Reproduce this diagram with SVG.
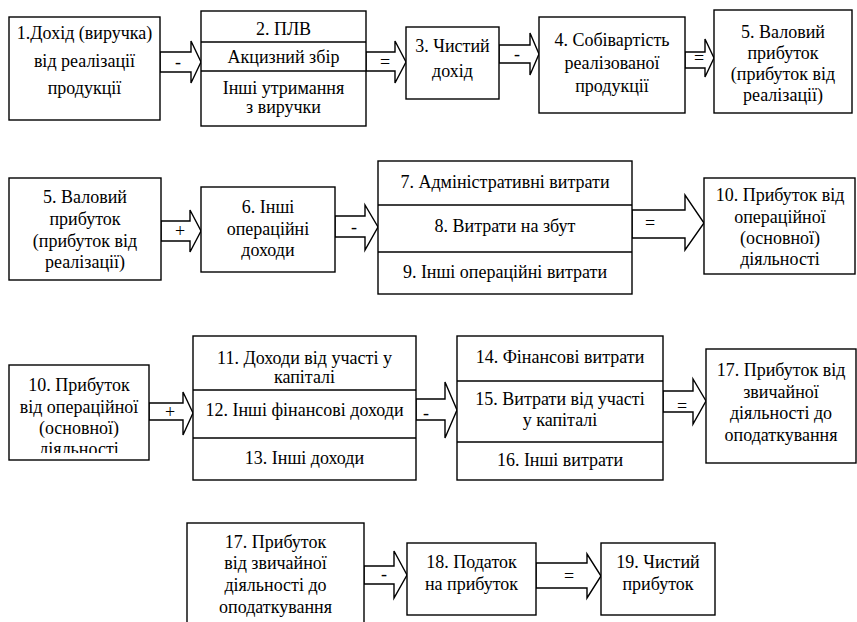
<svg xmlns="http://www.w3.org/2000/svg" width="857" height="622" viewBox="0 0 857 622">
  <style>
    .box { fill: #fff; stroke: #000; stroke-width: 1.4; }
    .div { stroke: #000; stroke-width: 1.4; }
    .arr { fill: #fff; stroke: #000; stroke-width: 1.4; stroke-linejoin: miter; }
    text { font-family: "Liberation Serif", "Times New Roman", serif; font-size: 18px; fill: #000; text-anchor: middle; }
  </style>
  <defs>
    <clipPath id="clip10b"><rect x="9" y="365" width="140" height="88"/></clipPath>
  </defs>
  <rect width="857" height="622" fill="#fff"/>

  <!-- connectors: hollow block arrows with operation signs -->
  <g id="connectors">
    <polygon class="arr" points="160,52 191,52 191,41 201,62 191,83 191,72 160,72"/>
    <text x="178" y="68">-</text>
    <polygon class="arr" points="366,52 395,52 395,41 406,62 395,83 395,71 366,71"/>
    <text x="385" y="68">=</text>
    <polygon class="arr" points="499,45 530,45 530,33 539,54 530,75 530,63 499,63"/>
    <text x="517" y="60">-</text>
    <polygon class="arr" points="685,52 705,52 705,39 714,58 705,77 705,68 685,68"/>
    <text x="699" y="64">=</text>

    <polygon class="arr" points="161,221 190,221 190,210 201,231 190,252 190,241 161,241"/>
    <text x="180" y="237">+</text>
    <polygon class="arr" points="335,216 365,216 365,205 378,227 365,250 365,237 335,237"/>
    <text x="354" y="233">-</text>
    <polygon class="arr" points="632,210 685,210 685,195 704,223 685,250 685,238 632,238"/>
    <text x="650" y="229">=</text>

    <polygon class="arr" points="149,403 183,403 183,392 193,413 183,435 183,420 149,420"/>
    <text x="170" y="418">+</text>
    <polygon class="arr" points="416,399 445,399 445,382 457,410 445,438 445,420 416,420"/>
    <text x="426" y="419">-</text>
    <polygon class="arr" points="663,391 693,391 693,379 706,401 693,424 693,412 663,412"/>
    <text x="682" y="412">=</text>

    <polygon class="arr" points="364,566 394,566 394,551 407,575 394,598 394,584 364,584"/>
    <text x="384" y="580">-</text>
    <polygon class="arr" points="536,563 587,563 587,554 601,576 587,598 587,588 536,588"/>
    <text x="569" y="582">=</text>
  </g>

  <!-- row 1 -->
  <g id="n1">
    <rect class="box" x="9" y="17" width="151" height="103"/>
    <text x="84.5" y="39">1.Дохід (виручка)</text>
    <text x="84.5" y="67">від реалізації</text>
    <text x="84.5" y="94">продукції</text>
  </g>
  <g id="n2">
    <rect class="box" x="201" y="11" width="165" height="115"/>
    <line class="div" x1="201" y1="42" x2="366" y2="42"/>
    <line class="div" x1="201" y1="71" x2="366" y2="71"/>
    <text x="283.5" y="35">2. ПЛВ</text>
    <text x="283.5" y="63">Акцизний збір</text>
    <text x="283.5" y="94">Інші утримання</text>
    <text x="283.5" y="113">з виручки</text>
  </g>
  <g id="n3">
    <rect class="box" x="406" y="27" width="93" height="72"/>
    <text x="452.5" y="52">3. Чистий</text>
    <text x="452.5" y="77">дохід</text>
  </g>
  <g id="n4">
    <rect class="box" x="539" y="17" width="146" height="96"/>
    <text x="612" y="46">4. Собівартість</text>
    <text x="612" y="69">реалізованої</text>
    <text x="612" y="92">продукції</text>
  </g>
  <g id="n5">
    <rect class="box" x="714" y="10" width="138" height="103"/>
    <text x="783" y="38">5. Валовий</text>
    <text x="783" y="59">прибуток</text>
    <text x="783" y="80">(прибуток від</text>
    <text x="783" y="101">реалізації)</text>
  </g>

  <!-- row 2 -->
  <g id="n5b">
    <rect class="box" x="9" y="178" width="152" height="102"/>
    <text x="85" y="203">5. Валовий</text>
    <text x="85" y="225">прибуток</text>
    <text x="85" y="247">(прибуток від</text>
    <text x="85" y="268">реалізації)</text>
  </g>
  <g id="n6">
    <rect class="box" x="201" y="187" width="134" height="85"/>
    <text x="268" y="213">6. Інші</text>
    <text x="268" y="235">операційні</text>
    <text x="268" y="256">доходи</text>
  </g>
  <g id="n7-9">
    <rect class="box" x="378" y="161" width="254" height="133"/>
    <line class="div" x1="378" y1="205" x2="632" y2="205"/>
    <line class="div" x1="378" y1="252" x2="632" y2="252"/>
    <text x="505" y="188">7. Адміністративні витрати</text>
    <text x="505" y="232">8. Витрати на збут</text>
    <text x="505" y="278">9. Інші операційні витрати</text>
  </g>
  <g id="n10">
    <rect class="box" x="704" y="178" width="151" height="96"/>
    <text x="780" y="201">10. Прибуток від</text>
    <text x="780" y="223">операційної</text>
    <text x="780" y="244">(основної)</text>
    <text x="780" y="265">діяльності</text>
  </g>

  <!-- row 3 -->
  <g id="n10b">
    <rect class="box" x="9" y="365" width="140" height="95"/>
    <g clip-path="url(#clip10b)">
      <text x="79" y="391">10. Прибуток</text>
      <text x="79" y="413">від операційної</text>
      <text x="79" y="434">(основної)</text>
      <text x="79" y="455">діяльності</text>
    </g>
  </g>
  <g id="n11-13">
    <rect class="box" x="193" y="336" width="223" height="144"/>
    <line class="div" x1="193" y1="390" x2="416" y2="390"/>
    <line class="div" x1="193" y1="438" x2="416" y2="438"/>
    <text x="304.5" y="364">11. Доходи від участі у</text>
    <text x="304.5" y="383">капіталі</text>
    <text x="304.5" y="416">12. Інші фінансові доходи</text>
    <text x="304.5" y="464">13. Інші доходи</text>
  </g>
  <g id="n14-16">
    <rect class="box" x="457" y="336" width="206" height="144"/>
    <line class="div" x1="457" y1="381" x2="663" y2="381"/>
    <line class="div" x1="457" y1="442" x2="663" y2="442"/>
    <text x="560" y="363">14. Фінансові витрати</text>
    <text x="560" y="405">15. Витрати від участі</text>
    <text x="560" y="426">у капіталі</text>
    <text x="560" y="466">16. Інші витрати</text>
  </g>
  <g id="n17">
    <rect class="box" x="706" y="349" width="150" height="114"/>
    <text x="781" y="376">17. Прибуток від</text>
    <text x="781" y="398">звичайної</text>
    <text x="781" y="419">діяльності до</text>
    <text x="781" y="441">оподаткування</text>
  </g>

  <!-- row 4 -->
  <g id="n17b">
    <rect class="box" x="187" y="523" width="177" height="110"/>
    <text x="275.5" y="548">17. Прибуток</text>
    <text x="275.5" y="569">від звичайної</text>
    <text x="275.5" y="591">діяльності до</text>
    <text x="275.5" y="613">оподаткування</text>
  </g>
  <g id="n18">
    <rect class="box" x="407" y="543" width="129" height="72"/>
    <text x="471.5" y="568">18. Податок</text>
    <text x="471.5" y="590">на прибуток</text>
  </g>
  <g id="n19">
    <rect class="box" x="601" y="543" width="114" height="72"/>
    <text x="658" y="568">19. Чистий</text>
    <text x="658" y="590">прибуток</text>
  </g>
</svg>
